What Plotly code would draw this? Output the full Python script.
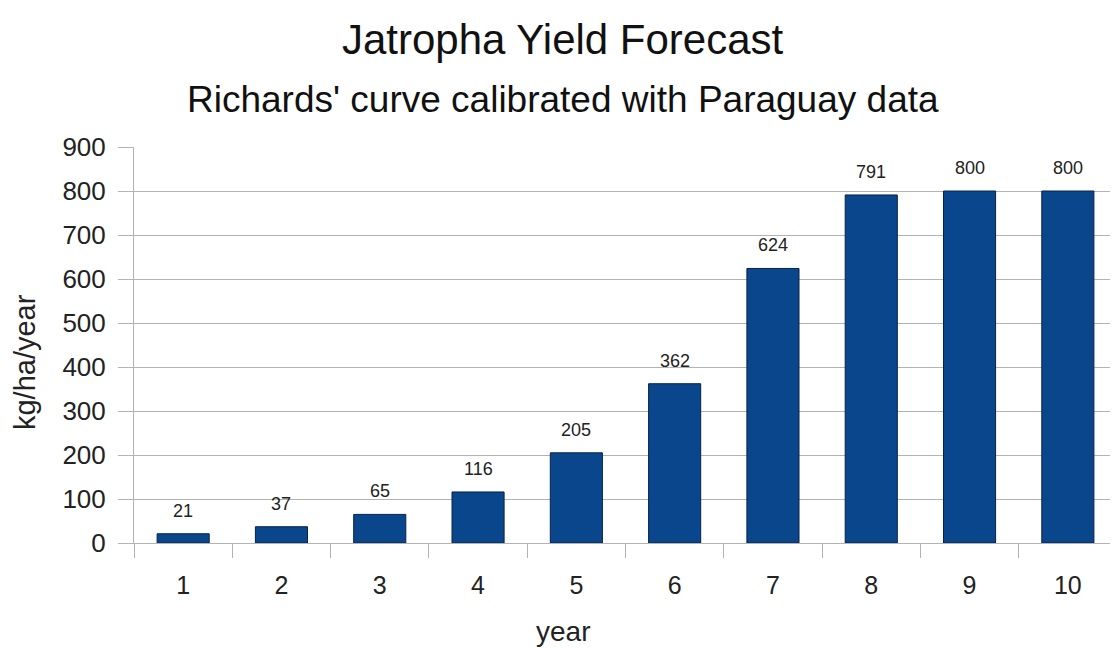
import plotly.graph_objects as go

years = ["1", "2", "3", "4", "5", "6", "7", "8", "9", "10"]
yields = [21, 37, 65, 116, 205, 362, 624, 791, 800, 800]
y_ticks = [0, 100, 200, 300, 400, 500, 600, 700, 800, 900]

title_text = "Jatropha Yield Forecast"
subtitle_text = "Richards' curve calibrated with Paraguay data"
x_title = "year"
y_title = "kg/ha/year"

FONT = "Liberation Sans, Arial, sans-serif"
GRID = "#b3b3b3"
TXT = "#222222"

fig = go.Figure()
fig.add_trace(go.Bar(
    x=years, y=yields,
    marker=dict(color="#09468b", line=dict(color="#06224a", width=1)),
    width=0.53,
    showlegend=False,
))

for i, v in enumerate(yields):
    fig.add_annotation(x=i, y=v, xref="x", yref="y", text=str(v), showarrow=False,
                       yshift=23, font=dict(family=FONT, size=18, color=TXT))

# titles (centred on the whole figure)
fig.add_annotation(x=0.436, y=1.2727, xref="paper", yref="paper", text=title_text,
                   showarrow=False, xanchor="center", yanchor="middle",
                   font=dict(family=FONT, size=42, color="#111111"))
fig.add_annotation(x=0.436, y=1.1187, xref="paper", yref="paper", text=subtitle_text,
                   showarrow=False, xanchor="center", yanchor="middle",
                   font=dict(family=FONT, size=37, color="#111111"))
fig.add_annotation(x=-0.1109, y=0.457, xref="paper", yref="paper", text=y_title,
                   showarrow=False, xanchor="center", yanchor="middle", textangle=-90,
                   font=dict(family=FONT, size=29, color=TXT))
fig.add_annotation(x=0.436, y=-0.2247, xref="paper", yref="paper", text=x_title,
                   showarrow=False, xanchor="center", yanchor="middle",
                   font=dict(family=FONT, size=28, color=TXT))

fig.update_layout(
    width=1110, height=640,
    margin=dict(l=126, r=1, t=139, b=105),
    paper_bgcolor="white", plot_bgcolor="white",
    font=dict(family=FONT, color=TXT),
    xaxis=dict(
        type="category",
        automargin=False,
        showgrid=False,
        showline=True, linecolor=GRID, linewidth=1,
        ticks="outside", tickson="boundaries", ticklen=14, tickcolor=GRID,
        tickfont=dict(family=FONT, size=25, color=TXT),
        ticklabelstandoff=20,
    ),
    yaxis=dict(
        range=[0, 900],
        automargin=False,
        tickvals=y_ticks,
        showgrid=True, gridcolor=GRID, gridwidth=1,
        showline=True, linecolor=GRID, linewidth=1,
        ticks="outside", ticklen=15, tickcolor=GRID,
        tickfont=dict(family=FONT, size=26, color=TXT),
        ticklabelstandoff=7,
        zeroline=False,
    ),
)

fig.write_html("out.html")
